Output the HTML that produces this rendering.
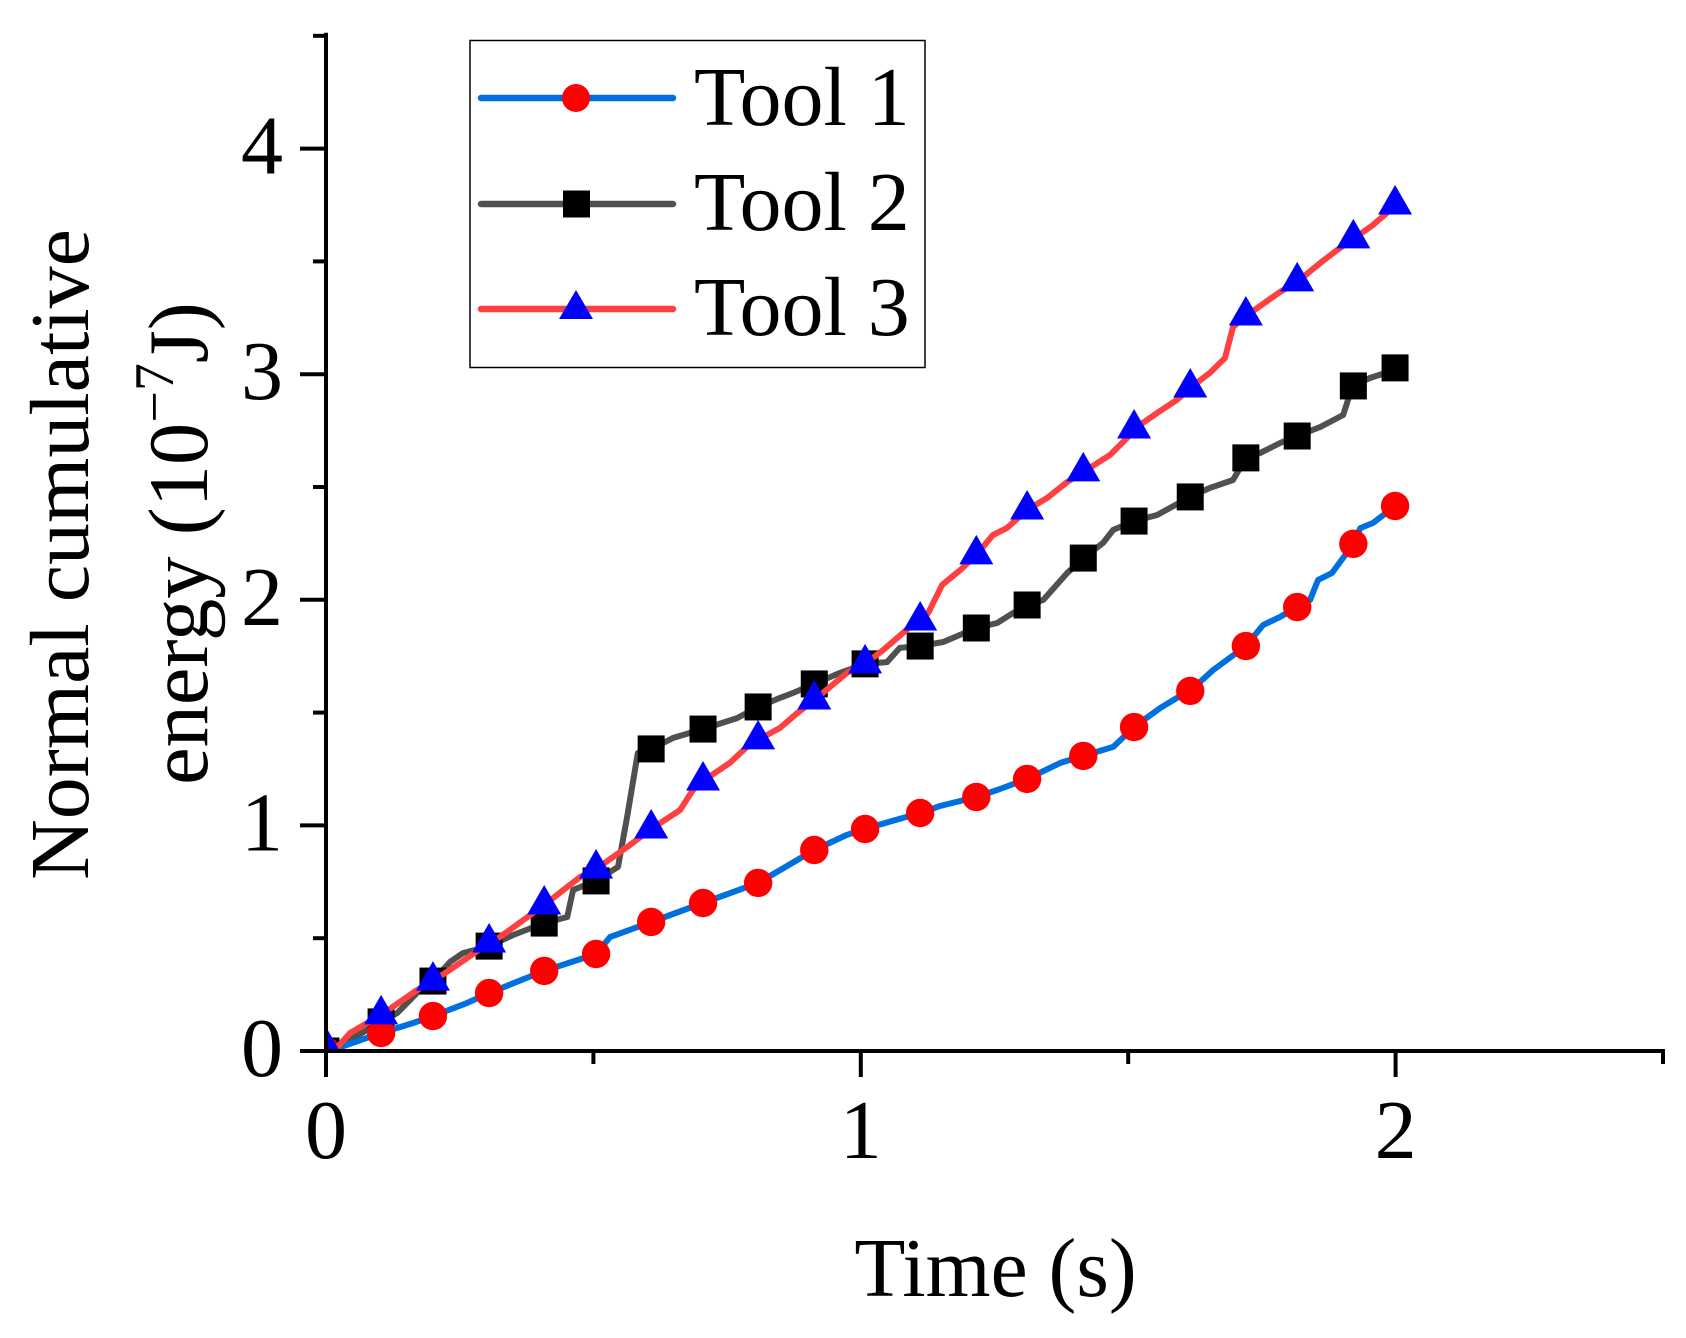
<!DOCTYPE html>
<html lang="en">
<head>
<meta charset="utf-8">
<title>Normal cumulative energy vs time</title>
<style>
html,body{margin:0;padding:0;background:#fff;}
body{width:1686px;height:1338px;overflow:hidden;}
svg{display:block;}
text{font-family:"Liberation Serif",serif;fill:#000;}
</style>
</head>
<body>
<svg id="chart" width="1686" height="1338" viewBox="0 0 1686 1338" xmlns="http://www.w3.org/2000/svg">
  <defs>
    <clipPath id="plot-clip"><rect x="324" y="30" width="1342" height="1021"></rect></clipPath>
  </defs>
  <rect width="1686" height="1338" fill="#fff"></rect>
  <g id="series-layer" clip-path="url(#plot-clip)"></g>
  <g id="axis-layer"></g>

  <text x="995.5" y="1296" font-size="83.5" text-anchor="middle">Time (s)</text>
  <text transform="translate(88 554.5) rotate(-90)" font-size="84" text-anchor="middle">Normal cumulative</text>
  <text transform="translate(207 543.5) rotate(-90)" font-size="84.5" text-anchor="middle">energy (10<tspan font-size="56" dy="-34">−7</tspan><tspan dy="34">J)</tspan></text>

  <g>
    <rect x="470" y="40.5" width="455" height="327" fill="#fff" stroke="#000" stroke-width="1.5"></rect>
    <g>
      <line x1="484" y1="98" x2="676" y2="98" stroke="#0070E0" stroke-width="6.5" stroke-linecap="round" transform="translate(-3 0)"></line>
      <circle cx="580" cy="98" r="14" fill="#FF0000" transform="translate(-4 0)"></circle>
      <text x="694" y="125" font-size="84">Tool 1</text>
    </g>
    <g>
      <line x1="484" y1="204" x2="676" y2="204" stroke="#505050" stroke-width="6.5" stroke-linecap="round" transform="translate(-3 0)"></line>
      <rect x="563" y="190.5" width="27" height="27" fill="#000"></rect>
      <text x="694" y="230" font-size="84">Tool 2</text>
    </g>
    <g>
      <line x1="484" y1="309" x2="676" y2="309" stroke="#FF4040" stroke-width="6.5" stroke-linecap="round" transform="translate(-3 0)"></line>
      <polygon points="576,290 593,319 559,319" fill="#0000FF"></polygon>
      <text x="694" y="335" font-size="84">Tool 3</text>
    </g>
  </g>
</svg>
<script>
const xTickValues = [0, 0.5, 1, 1.5, 2, 2.5];
const xTickLabels = ["0", "", "1", "", "2", ""];
const yTickValues = [0, 0.5, 1, 1.5, 2, 2.5, 3, 3.5, 4, 4.5];
const yTickLabels = ["0", "", "1", "", "2", "", "3", "", "4", ""];

const markerTimes = [0, .103, .200, .305, .408, .505, .608, .705, .808, .913, 1.008, 1.111, 1.216, 1.311, 1.416, 1.511, 1.616, 1.720, 1.816, 1.921, 1.999];
const tool1Markers = [0, .080, .155, .257, .355, .430, .572, .656, .745, .891, .984, 1.055, 1.126, 1.206, 1.308, 1.436, 1.596, 1.795, 1.968, 2.248, 2.416];
const tool2Markers = [0, .129, .310, .465, .567, .754, 1.339, 1.427, 1.525, 1.627, 1.716, 1.795, 1.875, 1.977, 2.185, 2.349, 2.456, 2.629, 2.726, 2.948, 3.028];
const tool3Markers = [.018, .160, .310, .479, .647, .807, .984, 1.197, 1.379, 1.556, 1.716, 1.906, 2.199, 2.398, 2.567, 2.757, 2.939, 3.258, 3.409, 3.600, 3.750];

const tool1Time = [0, .022, .103, .163, .200, .264, .305, .408, .505, .531, .608, .705, .808, .849, .913, .974, 1.006, 1.111, 1.148, 1.216, 1.255, 1.311, 1.373, 1.416, 1.472, 1.511, 1.560, 1.591, 1.616, 1.659, 1.720, 1.752, 1.784, 1.816, 1.840, 1.855, 1.881, 1.921, 1.934, 1.958, 1.999];
const tool1Energy = [0, .013, .080, .124, .155, .213, .257, .355, .430, .505, .572, .656, .745, .802, .891, .958, .984, 1.055, 1.086, 1.126, 1.157, 1.206, 1.277, 1.308, 1.348, 1.436, 1.521, 1.565, 1.596, 1.689, 1.795, 1.888, 1.924, 1.968, 1.999, 2.088, 2.119, 2.248, 2.318, 2.341, 2.416];

const tool2Time = [0, .022, .103, .133, .170, .200, .232, .256, .305, .350, .408, .451, .462, .505, .546, .563, .583, .608, .649, .705, .769, .808, .849, .873, .913, .961, 1.008, 1.049, 1.073, 1.111, 1.154, 1.216, 1.255, 1.279, 1.311, 1.341, 1.386, 1.416, 1.453, 1.472, 1.511, 1.554, 1.616, 1.653, 1.696, 1.720, 1.747, 1.784, 1.816, 1.859, 1.902, 1.911, 1.921, 1.952, 1.975, 1.999];
const tool2Energy = [0, .018, .129, .168, .257, .310, .395, .434, .465, .514, .567, .594, .714, .754, .816, 1.037, 1.321, 1.339, 1.388, 1.427, 1.476, 1.525, 1.565, 1.587, 1.627, 1.676, 1.716, 1.724, 1.787, 1.795, 1.813, 1.875, 1.897, 1.933, 1.977, 1.999, 2.119, 2.185, 2.252, 2.310, 2.349, 2.376, 2.456, 2.496, 2.531, 2.629, 2.651, 2.695, 2.726, 2.766, 2.819, 2.886, 2.948, 2.983, 3.001, 3.028];

const tool3Time = [0, .022, .045, .103, .170, .200, .245, .305, .325, .408, .451, .475, .505, .563, .608, .662, .686, .705, .755, .787, .808, .849, .881, .913, .974, 1.008, 1.042, 1.092, 1.111, 1.126, 1.152, 1.186, 1.216, 1.247, 1.273, 1.311, 1.348, 1.386, 1.416, 1.466, 1.498, 1.511, 1.554, 1.591, 1.616, 1.653, 1.681, 1.696, 1.720, 1.784, 1.816, 1.859, 1.891, 1.921, 1.958, 1.984, 1.999];
const tool3Energy = [0, .018, .080, .160, .270, .310, .381, .479, .505, .647, .727, .771, .807, .904, .984, 1.068, 1.157, 1.197, 1.277, 1.348, 1.379, 1.432, 1.498, 1.556, 1.676, 1.716, 1.778, 1.880, 1.906, 1.942, 2.066, 2.132, 2.199, 2.287, 2.318, 2.398, 2.451, 2.522, 2.567, 2.642, 2.717, 2.757, 2.828, 2.886, 2.939, 3.006, 3.072, 3.209, 3.258, 3.365, 3.409, 3.493, 3.551, 3.600, 3.662, 3.715, 3.750];

const SVG_NS = "http://www.w3.org/2000/svg";
const xOf = function (t) { return 326 + 534.8 * t; };
const yOf = function (v) { return 1051 - 225.6 * v; };

function make(tag, parent, attrs) {
  const el = document.createElementNS(SVG_NS, tag);
  for (const k in attrs) { el.setAttribute(k, attrs[k]); }
  parent.appendChild(el);
  return el;
}

const seriesLayer = document.getElementById("series-layer");
const axisLayer = document.getElementById("axis-layer");

function drawLine(parent, times, values, colour) {
  const pts = times.map(function (t, i) { return xOf(t).toFixed(1) + "," + yOf(values[i]).toFixed(1); }).join(" ");
  const line = make("polyline", parent, { points: pts, fill: "none", stroke: colour, "stroke-width": 6, "stroke-linejoin": "round", "stroke-linecap": "round" });
  
  
}

const tool2Group = make("g", seriesLayer, {});


drawLine(tool2Group, tool2Time, tool2Energy, "#505050");
markerTimes.forEach(function (t, i) {
  const s = make("rect", tool2Group, { x: xOf(t) - 13.5, y: yOf(tool2Markers[i]) - 13.5, width: 27, height: 27, fill: "#000" });
  
  
});

const tool1Group = make("g", seriesLayer, {});


drawLine(tool1Group, tool1Time, tool1Energy, "#0070E0");
markerTimes.forEach(function (t, i) {
  const c = make("circle", tool1Group, { cx: xOf(t), cy: yOf(tool1Markers[i]), r: 14.2, fill: "#FF0000" });
  
  
});

const tool3Group = make("g", seriesLayer, {});


drawLine(tool3Group, tool3Time, tool3Energy, "#FF4040");
markerTimes.forEach(function (t, i) {
  const px = xOf(t);
  const py = yOf(tool3Markers[i]);
  const p = make("polygon", tool3Group, { points: px + "," + (py - 20) + " " + (px + 17) + "," + (py + 9.5) + " " + (px - 17) + "," + (py + 9.5), fill: "#0000FF" });
  
  
});

const yAxisLine = make("line", axisLayer, { x1: 326, y1: yOf(4.5) - 3, x2: 326, y2: 1077, stroke: "#000", "stroke-width": 4 });


const xAxisLine = make("line", axisLayer, { x1: 300, y1: 1051, x2: xOf(2.5) + 2, y2: 1051, stroke: "#000", "stroke-width": 4 });



xTickValues.forEach(function (t, i) {
  const major = xTickLabels[i] !== "";
  const tick = make("line", axisLayer, { x1: xOf(t), y1: 1051, x2: xOf(t), y2: major ? 1077 : 1064, stroke: "#000", "stroke-width": 4 });
  
  
  if (major) {
    const label = make("text", axisLayer, { x: xOf(t), y: 1158, "font-size": 84, "text-anchor": "middle" });
    label.textContent = xTickLabels[i];
    
    
  }
});

yTickValues.forEach(function (v, i) {
  const major = yTickLabels[i] !== "";
  const tick = make("line", axisLayer, { x1: major ? 300 : 313, y1: yOf(v), x2: 326, y2: yOf(v), stroke: "#000", "stroke-width": 4 });
  
  
  if (major) {
    const label = make("text", axisLayer, { x: 283, y: yOf(v) + 25, "font-size": 84, "text-anchor": "end" });
    label.textContent = yTickLabels[i];
    
    
  }
});
</script>
</body>
</html>
